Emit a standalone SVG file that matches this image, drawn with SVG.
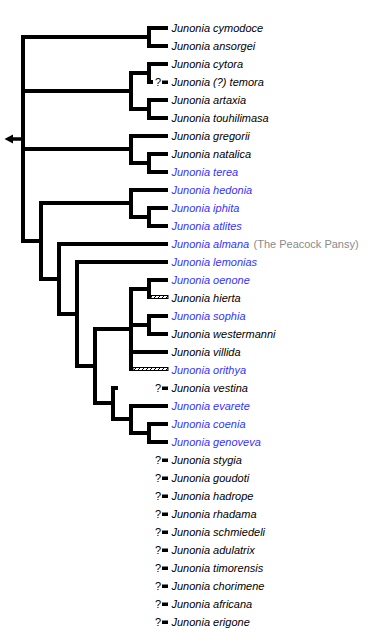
<svg xmlns="http://www.w3.org/2000/svg" width="389" height="633" viewBox="0 0 389 633">
<style>
.br{fill:none;stroke:#000;stroke-width:4;stroke-linecap:butt;stroke-linejoin:miter}
.t{font-family:"Liberation Sans",Arial,sans-serif;font-size:11px;font-style:italic;fill:#000}
.b{fill:#3333ff}
.n{font-style:normal;fill:#8a8a8a}
.q{font-family:"Liberation Sans",Arial,sans-serif;font-size:11px;fill:#000}
.hat{fill:url(#hatch);stroke:#000;stroke-width:1}
</style>
<defs>
<pattern id="hatch" width="4" height="4" patternUnits="userSpaceOnUse">
<rect width="4" height="4" fill="#fff"/>
<path d="M-1,5 L5,-1" stroke="#000" stroke-width="1"/>
</pattern>
<symbol id="qm" overflow="visible">
<text class="q" x="155" y="4">?</text>
<rect x="162" y="-1.5" width="6" height="3.5" fill="#000"/>
</symbol>
</defs>
<rect width="389" height="633" fill="#fff"/>
<g id="connectors">
<polygon points="4.5,139 13,134.5 13,143.5" fill="#000"/>
<path d="M13,139 H22" stroke="#000" stroke-width="3.5"/>
<path class="br" d="M149,37 H23 V241 H41 M23,91 H131 M23,149 H131"/>
<path class="br" d="M168,28 H149 V46 H168"/>
<path class="br" d="M149,73 H131 V109 H149"/>
<path class="br" d="M168,64 H149 V82 H153"/>
<path class="br" d="M168,100 H149 V118 H168"/>
<path class="br" d="M168,136 H131 V163 H149"/>
<path class="br" d="M168,154 H149 V172 H168"/>
<path class="br" d="M131,203 H41 V279 H59"/>
<path class="br" d="M168,190 H131 V217 H149"/>
<path class="br" d="M168,208 H149 V226 H168"/>
<path class="br" d="M168,244 H59 V314 H77"/>
<path class="br" d="M168,262 H77 V366 H95"/>
<path class="br" d="M131,329 H95 V403 H113"/>
<path class="br" d="M149,289 H131 V371 M131,325 H149 M131,352 H168"/>
<rect class="hat" x="133" y="367.5" width="35" height="3"/>
<path class="br" d="M168,280 H149 V299"/>
<rect class="hat" x="151" y="295.5" width="17" height="3"/>
<path class="br" d="M168,316 H149 V334 H168"/>
<path class="br" d="M118,388 H113 V419 H131"/>
<path class="br" d="M168,406 H131 V433 H149"/>
<path class="br" d="M168,424 H149 V442 H168"/>
</g>
<g id="taxon-cymodoce"><text class="t" x="171.5" y="32">Junonia cymodoce</text></g>
<g id="taxon-ansorgei"><text class="t" x="171.5" y="50">Junonia ansorgei</text></g>
<g id="taxon-cytora"><text class="t" x="171.5" y="68">Junonia cytora</text></g>
<g id="taxon-temora"><use href="#qm" y="82"/><text class="t" x="171.5" y="86">Junonia (?) temora</text></g>
<g id="taxon-artaxia"><text class="t" x="171.5" y="104">Junonia artaxia</text></g>
<g id="taxon-touhilimasa"><text class="t" x="171.5" y="122">Junonia touhilimasa</text></g>
<g id="taxon-gregorii"><text class="t" x="171.5" y="140">Junonia gregorii</text></g>
<g id="taxon-natalica"><text class="t" x="171.5" y="158">Junonia natalica</text></g>
<g id="taxon-terea"><text class="t b" x="171.5" y="176">Junonia terea</text></g>
<g id="taxon-hedonia"><text class="t b" x="171.5" y="194">Junonia hedonia</text></g>
<g id="taxon-iphita"><text class="t b" x="171.5" y="212">Junonia iphita</text></g>
<g id="taxon-atlites"><text class="t b" x="171.5" y="230">Junonia atlites</text></g>
<g id="taxon-almana"><text class="t" x="171.5" y="248"><tspan class="b">Junonia almana</tspan><tspan class="n" x="253.5">(The Peacock Pansy)</tspan></text></g>
<g id="taxon-lemonias"><text class="t b" x="171.5" y="266">Junonia lemonias</text></g>
<g id="taxon-oenone"><text class="t b" x="171.5" y="284">Junonia oenone</text></g>
<g id="taxon-hierta"><text class="t" x="171.5" y="302">Junonia hierta</text></g>
<g id="taxon-sophia"><text class="t b" x="171.5" y="320">Junonia sophia</text></g>
<g id="taxon-westermanni"><text class="t" x="171.5" y="338">Junonia westermanni</text></g>
<g id="taxon-villida"><text class="t" x="171.5" y="356">Junonia villida</text></g>
<g id="taxon-orithya"><text class="t b" x="171.5" y="374">Junonia orithya</text></g>
<g id="taxon-vestina"><use href="#qm" y="388"/><text class="t" x="171.5" y="392">Junonia vestina</text></g>
<g id="taxon-evarete"><text class="t b" x="171.5" y="410">Junonia evarete</text></g>
<g id="taxon-coenia"><text class="t b" x="171.5" y="428">Junonia coenia</text></g>
<g id="taxon-genoveva"><text class="t b" x="171.5" y="446">Junonia genoveva</text></g>
<g id="taxon-stygia"><use href="#qm" y="460"/><text class="t" x="171.5" y="464">Junonia stygia</text></g>
<g id="taxon-goudoti"><use href="#qm" y="478"/><text class="t" x="171.5" y="482">Junonia goudoti</text></g>
<g id="taxon-hadrope"><use href="#qm" y="496"/><text class="t" x="171.5" y="500">Junonia hadrope</text></g>
<g id="taxon-rhadama"><use href="#qm" y="514"/><text class="t" x="171.5" y="518">Junonia rhadama</text></g>
<g id="taxon-schmiedeli"><use href="#qm" y="532"/><text class="t" x="171.5" y="536">Junonia schmiedeli</text></g>
<g id="taxon-adulatrix"><use href="#qm" y="550"/><text class="t" x="171.5" y="554">Junonia adulatrix</text></g>
<g id="taxon-timorensis"><use href="#qm" y="568"/><text class="t" x="171.5" y="572">Junonia timorensis</text></g>
<g id="taxon-chorimene"><use href="#qm" y="586"/><text class="t" x="171.5" y="590">Junonia chorimene</text></g>
<g id="taxon-africana"><use href="#qm" y="604"/><text class="t" x="171.5" y="608">Junonia africana</text></g>
<g id="taxon-erigone"><use href="#qm" y="622"/><text class="t" x="171.5" y="626">Junonia erigone</text></g>
</svg>
